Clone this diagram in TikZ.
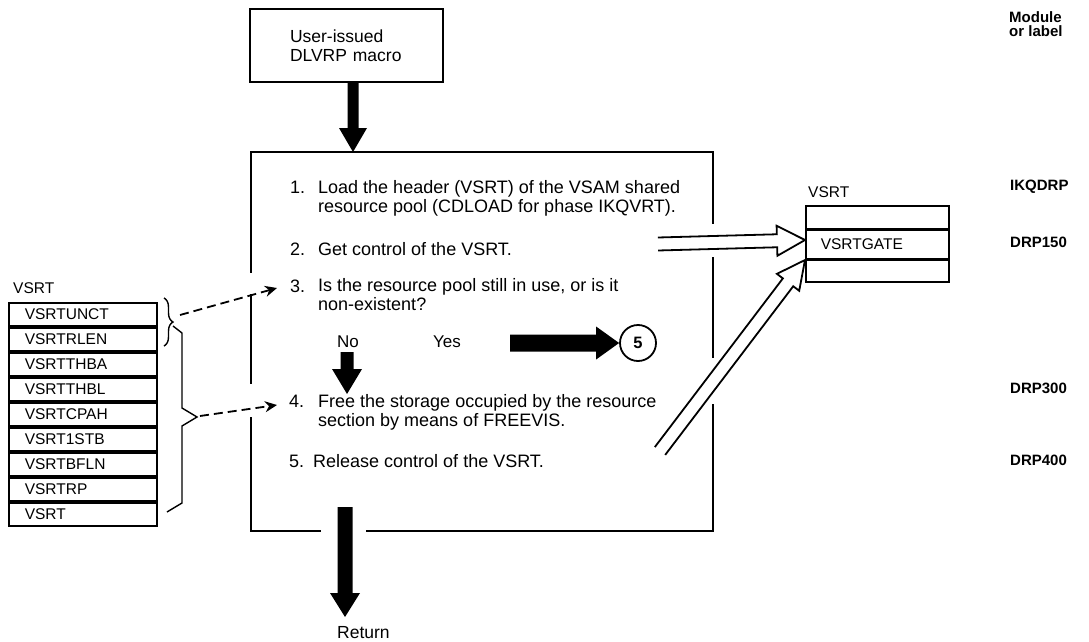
\documentclass[tikz,border=0pt]{standalone}
\usepackage{fontspec}
\setmainfont{Liberation Sans}
\usetikzlibrary{arrows.meta,decorations.pathreplacing,calc}
\newcommand\fatarrow[5]{%
 \fill let \p1=(#1), \p2=(#2), \n1={atan2(\y2-\y1,\x2-\x1)},
   \n2={veclen(\x2-\x1,\y2-\y1)-#5}, \n3={veclen(\x2-\x1,\y2-\y1)} in
 [shift={(\p1)}, rotate=\n1] (0pt,#3pt) -- (\n2,#3pt) -- (\n2,#4pt) -- (\n3,0pt)
   -- (\n2,-#4pt) -- (\n2,-#3pt) -- (0pt,-#3pt) -- cycle;}
\newcommand\hollowarrow[5]{%
 \draw[line width=1.8pt, line join=miter] let \p1=(#1), \p2=(#2), \n1={atan2(\y2-\y1,\x2-\x1)},
   \n2={veclen(\x2-\x1,\y2-\y1)-#5}, \n3={veclen(\x2-\x1,\y2-\y1)} in
 [shift={(\p1)}, rotate=\n1] (0pt,#3pt) -- (\n2,#3pt) -- (\n2,#4pt) -- (\n3,0pt)
   -- (\n2,-#4pt) -- (\n2,-#3pt) -- (0pt,-#3pt);}
\begin{document}
\begin{tikzpicture}[x=1pt,y=-1pt,
  mainfont/.style={font=\fontsize{18}{19}\selectfont},
  smallfont/.style={font=\fontsize{15.5}{16}\selectfont},
  labfont/.style={font=\bfseries\fontsize{15}{14}\selectfont},
  frame/.style={line width=2.6pt, line cap=rect},
  cell/.style={draw, line width=1.6pt, minimum width=148pt, minimum height=23.4pt,
    text width=116pt, inner xsep=16pt, inner ysep=0pt, align=left, anchor=north west, smallfont},
  rcell/.style={draw, line width=1.6pt, minimum width=143pt,
    text width=113pt, inner xsep=15pt, inner ysep=0pt, align=left, anchor=north west, smallfont},
  dasharrow/.style={line width=1.8pt, dash pattern=on 9pt off 5pt, -{Stealth[length=12pt,width=11pt]}},
  bracestyle/.style={line width=1.4pt, decorate, decoration={brace, amplitude=9pt}},
  txt/.style={anchor=base west, inner sep=0pt, align=left, mainfont}
  ]
\useasboundingbox (0,0) rectangle (1089,642);

% top box
\node[draw, line width=2pt, minimum width=193pt, minimum height=73pt, anchor=north west,
  text width=123pt, inner xsep=35pt, align=left, font=\fontsize{17.5}{19}\selectfont]
  (top) at (249,8) {\hspace*{5pt}User-issued\\\hspace*{5pt}DLVRP macro};

% main frame with gaps
\draw[frame] (251,272) -- (251,152) -- (713,152) -- (713,223);
\draw[frame] (713,258) -- (713,357);
\draw[frame] (251,295) -- (251,383);
\draw[frame] (251,418) -- (251,531) -- (320,531);
\draw[frame] (367,531) -- (713,531) -- (713,405);

% steps (base anchor = last line's baseline)
\node[txt] (n1) at (290,193) {1.};
\node[txt] (s1) at (318,212) {Load the header (VSRT) of the VSAM shared\\resource pool (CDLOAD for phase IKQVRT).};
\node[txt] (n2) at (290,255) {2.};
\node[txt] (s2) at (318,255) {Get control of the VSRT.};
\node[txt] (n3) at (290,292) {3.};
\node[txt] (s3) at (318,310) {Is the resource pool still in use, or is it\\non-existent?};
\node[txt, font=\fontsize{17}{19}\selectfont] (no) at (337,347) {No};
\node[txt, font=\fontsize{17}{19}\selectfont] (yes) at (433,347) {Yes};
\node[txt] (n4) at (289,407) {4.};
\node[txt] (s4) at (318,426) {Free the storage occupied by the resource\\section by means of FREEVIS.};
\node[txt] (n5) at (289,467) {5.};
\node[txt] (s5) at (313,467) {Release control of the VSRT.};
\node[txt, font=\fontsize{17.5}{19}\selectfont] (ret) at (337,638) {Return};

% connector 5
\node[draw, circle, line width=1.8pt, minimum size=36pt, inner sep=0pt,
  font=\bfseries\fontsize{16.5}{18}\selectfont] (c5) at (638,343) {5};

% fat arrows
\coordinate (ta) at (353,81);  \coordinate (tb) at (353,152);
\coordinate (na) at (347,352); \coordinate (nb) at (347,394);
\coordinate (ya) at (510,343);
\coordinate (ra) at (345,507); \coordinate (rb) at (345,617);
\fatarrow{ta}{tb}{5.5}{14}{24}
\fatarrow{na}{nb}{6.5}{15}{25}
\fatarrow{ya}{c5.west}{8.5}{16.5}{23}
\fatarrow{ra}{rb}{7.5}{15}{24}

% right column labels
\node[anchor=base west, inner sep=0pt, align=left, labfont] (mod) at (1009,37) {Module\\or label};
\node[anchor=base west, inner sep=0pt, labfont] (l1) at (1010,190) {IKQDRP};
\node[anchor=base west, inner sep=0pt, labfont] (l2) at (1010,247) {DRP150};
\node[anchor=base west, inner sep=0pt, labfont] (l3) at (1010,393) {DRP300};
\node[anchor=base west, inner sep=0pt, labfont] (l4) at (1010,465) {DRP400};

% right VSRT table
\node[anchor=base west, inner sep=0pt, smallfont] (rv) at (808,197) {VSRT};
\node[rcell, minimum height=23pt] (g1) at (805,205) {};
\node[rcell, minimum height=28pt] (g2) at (g1.south west) {VSRTGATE};
\node[rcell, minimum height=22pt] (g3) at (g2.south west) {};

% hollow arrows
\coordinate (h1) at (658,244); \coordinate (h1e) at (805,240);
\coordinate (h2) at (660,451); \coordinate (h2e) at (805,260);
\hollowarrow{h1}{h1e}{6.5}{15}{28}
\hollowarrow{h2}{h2e}{6.5}{14}{28}

% left VSRT table
\node[anchor=base west, inner sep=0pt, smallfont] (lv) at (13,293) {VSRT};
\node[cell] (r1) at (8,302) {VSRTUNCT};
\node[cell] (r2) at (r1.south west) {VSRTRLEN};
\node[cell] (r3) at (r2.south west) {VSRTTHBA};
\node[cell] (r4) at (r3.south west) {VSRTTHBL};
\node[cell] (r5) at (r4.south west) {VSRTCPAH};
\node[cell] (r6) at (r5.south west) {VSRT1STB};
\node[cell] (r7) at (r6.south west) {VSRTBFLN};
\node[cell] (r8) at (r7.south west) {VSRTRP};
\node[cell] (r9) at (r8.south west) {VSRT};

% braces
\draw[bracestyle] (164,298) -- (164,346);
\draw[line width=1.4pt] (173,326) -- (182,333) -- (182,408) -- (197,417) -- (182,426) -- (182,503) -- (167,512);

% dashed arrows
\coordinate (b1) at (180,315); \coordinate (a3) at (277,288);
\coordinate (b2) at (200,416); \coordinate (a4) at (277,405);
\draw[dasharrow] (b1) -- (a3);
\draw[dasharrow] (b2) -- (a4);
\end{tikzpicture}
\end{document}
